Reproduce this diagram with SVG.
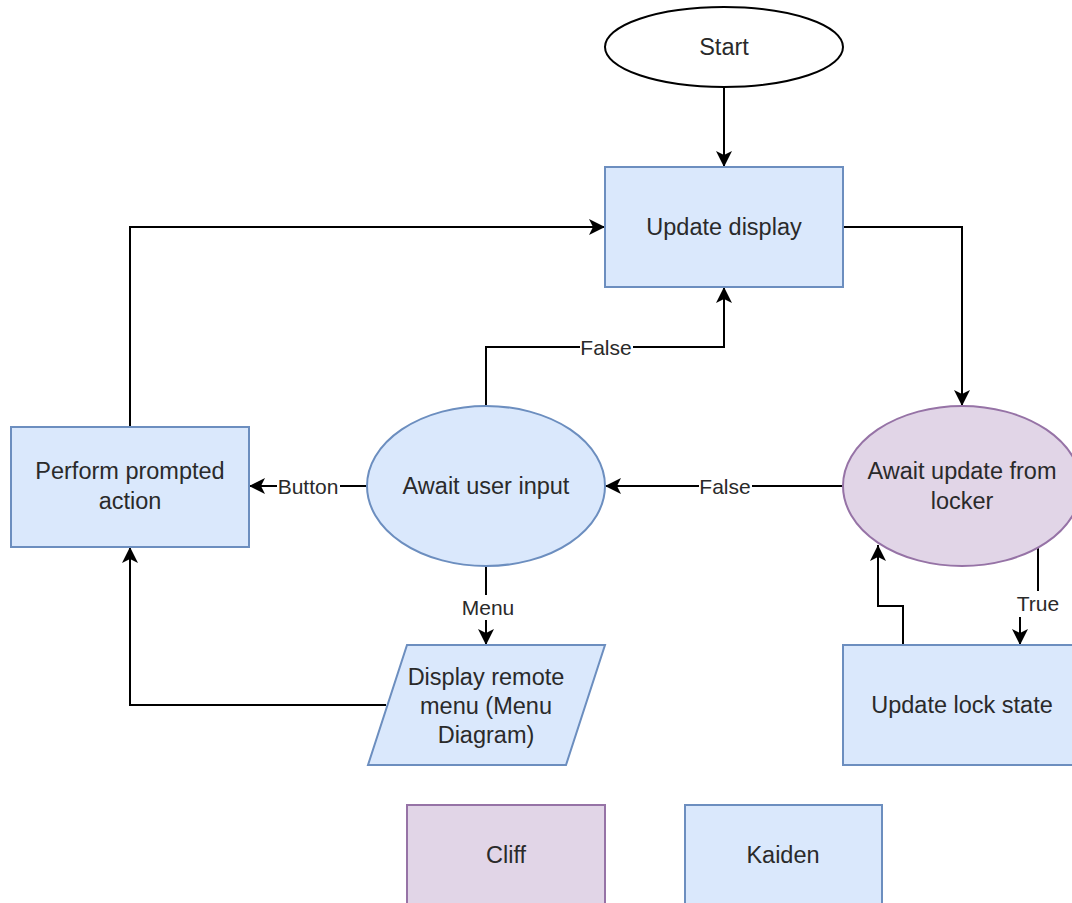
<svg xmlns="http://www.w3.org/2000/svg" width="1072" height="903" viewBox="0 0 1072 903">
<defs>
<style>
.blue{fill:#dae8fc;stroke:#6c8ebf;stroke-width:2}
.purple{fill:#e1d5e7;stroke:#9673a6;stroke-width:2}
.plain{fill:#ffffff;stroke:#000000;stroke-width:2}
.t{font-family:"Liberation Sans",Arial,sans-serif;font-size:23.5px;fill:#2a2a2a;text-anchor:middle}
.lbl{font-family:"Liberation Sans",Arial,sans-serif;font-size:21px;fill:#2a2a2a;text-anchor:middle}
.edge{fill:none;stroke:#000000;stroke-width:2}
.lblbg{fill:#ffffff;stroke:none}
</style>
<marker id="arr" viewBox="-17 -9 18 18" refX="0" refY="0" markerWidth="18" markerHeight="18" markerUnits="userSpaceOnUse" orient="auto">
<path d="M0,0 L-16,-8 L-12,0 L-16,8 Z" fill="#000000"/>
</marker>
</defs>
<rect width="1072" height="903" fill="#ffffff"/>

<g id="connectors">
<path class="edge" d="M724,87 V167" marker-end="url(#arr)"/>
<path class="edge" d="M843,227 H962 V406" marker-end="url(#arr)"/>
<path class="edge" d="M130,427 V227 H605" marker-end="url(#arr)"/>
<path class="edge" d="M486,406 V347 H724 V287" marker-end="url(#arr)"/>
<path class="edge" d="M843,486 H605" marker-end="url(#arr)"/>
<path class="edge" d="M368,486 H249" marker-end="url(#arr)"/>
<path class="edge" d="M486,566 V645" marker-end="url(#arr)"/>
<path class="edge" d="M386,705 H130 V547" marker-end="url(#arr)"/>
<path class="edge" d="M1038,548 V604 H1020 V645" marker-end="url(#arr)"/>
<path class="edge" d="M903,645 V606 H878 V545" marker-end="url(#arr)"/>
<g id="edge-labels">
<rect class="lblbg" x="580" y="335" width="53" height="25"/>
<text class="lbl" x="606" y="355">False</text>
<rect class="lblbg" x="699" y="474" width="53" height="25"/>
<text class="lbl" x="725" y="494">False</text>
<rect class="lblbg" x="277" y="474" width="63" height="25"/>
<text class="lbl" x="308" y="494">Button</text>
<rect class="lblbg" x="461" y="595" width="55" height="25"/>
<text class="lbl" x="488" y="615">Menu</text>
<rect class="lblbg" x="1015" y="591" width="47" height="26"/>
<text class="lbl" x="1038" y="611">True</text>
</g>
</g>

<g id="start">
<ellipse class="plain" cx="724" cy="47" rx="119" ry="40"/>
<text class="t" x="724" y="55">Start</text>
</g>
<g id="update-display">
<rect class="blue" x="605" y="167" width="238" height="120"/>
<text class="t" x="724" y="235">Update display</text>
</g>
<g id="perform-action">
<rect class="blue" x="11" y="427" width="238" height="120"/>
<text class="t" x="130" y="479">Perform prompted</text>
<text class="t" x="130" y="509">action</text>
</g>
<g id="await-user-input">
<ellipse class="blue" cx="486" cy="486" rx="119" ry="80"/>
<text class="t" x="486" y="494">Await user input</text>
</g>
<g id="await-locker">
<ellipse class="purple" cx="962" cy="486" rx="119" ry="80"/>
<text class="t" x="962" y="479">Await update from</text>
<text class="t" x="962" y="509">locker</text>
</g>
<g id="display-menu">
<polygon class="blue" points="407,645 605,645 566,765 368,765"/>
<text class="t" x="486" y="685">Display remote</text>
<text class="t" x="486" y="714">menu (Menu</text>
<text class="t" x="486" y="743">Diagram)</text>
</g>
<g id="update-lock-state">
<rect class="blue" x="843" y="645" width="238" height="120"/>
<text class="t" x="962" y="713">Update lock state</text>
</g>
<g id="cliff">
<rect class="purple" x="407" y="805" width="198" height="100"/>
<text class="t" x="506" y="863">Cliff</text>
</g>
<g id="kaiden">
<rect class="blue" x="685" y="805" width="197" height="100"/>
<text class="t" x="783" y="863">Kaiden</text>
</g>
</svg>
